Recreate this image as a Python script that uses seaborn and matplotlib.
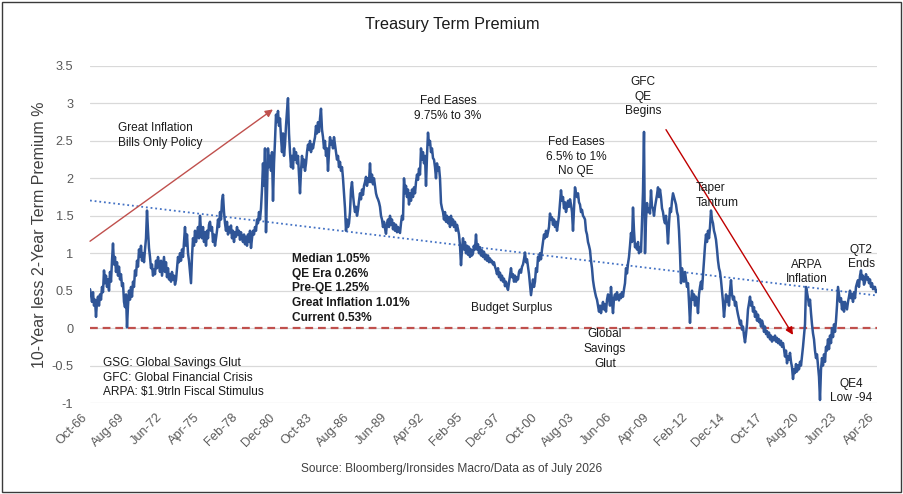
import numpy as np
import pandas as pd
import matplotlib
matplotlib.use("Agg")
import matplotlib.pyplot as plt
import matplotlib.dates as mdates
import seaborn as sns
from matplotlib.patches import Rectangle

# ---------------- data ----------------
start_month = "1966-10-01"
end_month = "2026-04-01"

term_premium = [
    0.52, 0.45, 0.35, 0.48, 0.30, 0.38, 0.15, 0.35, 0.42, 0.30,
    0.45, 0.38, 0.55, 0.48, 0.77, 0.60, 0.70, 0.55, 0.65, 0.50,
    0.75, 0.62, 0.90, 1.13, 0.85, 0.95, 0.75, 0.88, 0.70, 0.82,
    0.65, 0.72, 0.56, 0.60, 0.35, 0.28, 0.45, 0.01, 0.30, 0.50,
    0.38, 0.55, 0.42, 0.62, 0.55, 0.77, 0.70, 0.90, 0.82, 1.05,
    0.95, 1.10, 0.90, 1.00, 0.88, 1.05, 1.20, 1.57, 1.30, 1.07,
    0.95, 0.80, 0.85, 0.70, 0.78, 0.72, 0.90, 0.80, 0.95, 0.85,
    0.75, 0.90, 0.70, 0.82, 0.95, 0.75, 0.88, 0.68, 0.80, 0.65,
    0.72, 0.62, 0.75, 0.65, 0.70, 0.58, 0.64, 0.80, 0.95, 0.88,
    1.00, 0.90, 1.05, 0.95, 1.15, 1.35, 1.10, 1.25, 1.00, 0.90,
    0.75, 0.60, 0.95, 1.20, 1.10, 1.30, 1.15, 1.25, 1.35, 1.20,
    1.50, 1.30, 1.20, 1.35, 1.15, 1.28, 1.10, 1.30, 1.20, 1.38,
    1.42, 1.30, 1.35, 1.15, 1.25, 1.10, 1.20, 1.30, 1.45, 1.35,
    1.55, 1.45, 1.70, 1.78, 1.55, 1.40, 1.30, 1.42, 1.25, 1.35,
    1.28, 1.37, 1.20, 1.30, 1.15, 1.28, 1.22, 1.35, 1.25, 1.30,
    1.18, 1.28, 1.20, 1.15, 1.25, 1.12, 1.22, 1.10, 1.25, 1.15,
    1.30, 1.07, 1.20, 1.30, 1.25, 1.35, 1.30, 1.45, 1.40, 1.55,
    1.45, 1.60, 1.85, 2.20, 1.90, 2.40, 1.28, 1.80, 2.40, 2.15,
    2.30, 2.10, 2.35, 1.70, 2.20, 2.50, 2.85, 2.75, 2.90, 2.70,
    2.80, 2.55, 2.35, 2.60, 2.30, 2.45, 2.70, 2.90, 3.07, 2.60,
    2.35, 2.15, 2.30, 2.13, 2.40, 2.25, 2.35, 2.20, 2.30, 2.05,
    1.80, 2.10, 2.30, 2.15, 2.25, 2.10, 2.20, 2.35, 2.45, 2.38,
    2.50, 2.35, 2.45, 2.40, 2.48, 2.55, 2.70, 2.60, 2.75, 2.62,
    2.80, 2.93, 2.65, 2.55, 2.40, 2.50, 2.30, 2.40, 2.10, 2.35,
    2.55, 2.45, 2.50, 2.40, 2.55, 2.45, 2.35, 2.25, 2.30, 2.15,
    2.22, 2.10, 2.15, 2.00, 1.80, 1.60, 1.30, 1.45, 1.35, 1.40,
    1.55, 1.85, 1.95, 1.78, 1.65, 1.55, 1.62, 1.50, 1.58, 1.70,
    1.80, 1.72, 1.85, 1.78, 1.90, 1.95, 2.02, 1.90, 2.00, 1.95,
    2.20, 1.95, 2.05, 1.92, 2.00, 1.90, 1.80, 1.75, 1.72, 1.68,
    1.62, 1.50, 1.45, 1.35, 1.42, 1.33, 1.26, 1.40, 1.45, 1.35,
    1.50, 1.38, 1.45, 1.32, 1.40, 1.30, 1.38, 1.28, 1.35, 1.30,
    1.27, 1.40, 1.50, 1.45, 2.00, 1.80, 1.90, 1.75, 1.85, 1.65,
    1.80, 1.70, 1.85, 1.75, 1.88, 1.80, 1.95, 2.05, 1.98, 2.13,
    2.05, 2.40, 2.25, 2.35, 2.20, 2.30, 1.90, 2.30, 2.61, 2.45,
    2.50, 2.35, 2.40, 2.27, 2.25, 2.15, 2.00, 2.20, 2.10, 2.15,
    2.00, 1.67, 1.60, 1.55, 1.45, 1.55, 1.42, 1.50, 1.40, 1.48,
    1.35, 1.50, 1.38, 1.45, 1.35, 1.42, 1.30, 1.38, 1.32, 1.25,
    1.10, 0.84, 1.05, 1.20, 1.05, 1.15, 1.00, 1.10, 0.98, 1.08,
    0.95, 1.05, 0.97, 1.00, 1.10, 1.05, 1.25, 1.05, 1.12, 1.00,
    1.08, 0.97, 1.04, 0.95, 1.02, 0.92, 0.98, 0.90, 0.97, 0.88,
    0.93, 0.88, 0.90, 0.85, 0.88, 0.82, 0.78, 0.72, 0.80, 0.68,
    0.74, 0.64, 0.70, 0.62, 0.66, 0.56, 0.62, 0.55, 0.51, 0.60,
    0.70, 0.80, 0.68, 0.72, 0.62, 0.70, 0.62, 0.68, 0.65, 0.75,
    0.78, 0.74, 0.82, 0.85, 0.92, 1.01, 0.88, 0.92, 0.82, 0.72,
    0.58, 0.44, 0.55, 0.65, 0.55, 0.62, 0.80, 0.75, 0.95, 0.90,
    1.00, 0.92, 1.05, 1.15, 1.25, 1.20, 1.30, 1.22, 1.28, 1.35,
    1.53, 1.45, 1.48, 1.38, 1.45, 1.35, 1.42, 1.30, 1.40, 1.50,
    1.67, 1.84, 1.70, 1.75, 1.60, 1.68, 1.55, 1.62, 1.70, 1.62,
    1.72, 1.65, 1.55, 1.30, 1.60, 1.88, 1.80, 1.75, 1.80, 1.68,
    1.65, 1.55, 1.58, 1.50, 1.48, 1.45, 1.30, 1.25, 1.15, 1.10,
    1.04, 0.90, 0.80, 0.64, 0.55, 0.48, 0.42, 0.38, 0.30, 0.22,
    0.30, 0.20, 0.28, 0.35, 0.25, 0.32, 0.22, 0.38, 0.45, 0.40,
    0.30, 0.55, 0.35, 0.20, 0.40, 0.45, 0.38, 0.48, 0.40, 0.37,
    0.45, 0.40, 0.48, 0.42, 0.52, 0.60, 0.80, 0.73, 0.86, 0.95,
    1.10, 1.27, 1.15, 1.61, 1.30, 1.08, 1.12, 1.05, 1.15, 1.00,
    1.08, 1.02, 1.40, 1.82, 2.62, 1.00, 1.45, 1.67, 1.55, 1.60,
    1.53, 1.84, 1.62, 1.60, 1.50, 1.62, 1.70, 1.78, 1.88, 1.75,
    1.85, 1.75, 1.60, 1.55, 1.45, 1.40, 1.50, 1.35, 1.13, 1.40,
    1.60, 1.55, 1.70, 1.80, 1.75, 1.70, 1.65, 1.55, 1.50, 1.30,
    1.00, 0.60, 0.80, 0.70, 0.62, 0.75, 0.65, 0.55, 0.60, 0.35,
    0.07, 0.35, 0.50, 0.38, 0.45, 0.30, 0.42, 0.35, 0.20, 0.45,
    0.55, 0.62, 0.52, 0.70, 0.90, 1.10, 1.25, 1.15, 1.30, 1.20,
    1.35, 1.57, 1.45, 1.40, 1.30, 1.25, 1.18, 1.05, 0.90, 0.80,
    0.75, 0.64, 0.50, 0.35, 0.15, 0.30, 0.45, 0.35, 0.42, 0.30,
    0.50, 0.64, 0.45, 0.38, 0.42, 0.30, 0.35, 0.25, 0.18, 0.12,
    0.05, 0.10, -0.02, 0.02, -0.10, -0.19, -0.08, 0.05, 0.25, 0.33,
    0.42, 0.30, 0.35, 0.22, 0.28, 0.15, 0.22, 0.10, 0.18, 0.08,
    0.12, 0.02, 0.10, 0.05, -0.05, 0.02, -0.08, -0.04, -0.12, -0.06,
    -0.15, -0.10, -0.18, -0.12, -0.16, -0.10, -0.18, -0.13, -0.20, -0.15,
    -0.22, -0.17, -0.25, -0.20, -0.28, -0.38, -0.30, -0.47, -0.38, -0.42,
    -0.33, -0.45, -0.52, -0.68, -0.55, -0.60, -0.48, -0.58, -0.50, -0.55,
    -0.45, -0.50, -0.38, -0.25, -0.10, 0.05, 0.55, 0.48, 0.40, 0.30,
    0.38, 0.20, 0.05, -0.07, -0.15, -0.30, -0.40, -0.35, -0.50, -0.65,
    -0.96, -0.55, -0.40, -0.50, -0.35, -0.45, -0.25, -0.30, -0.15, -0.28,
    -0.10, -0.20, 0.00, -0.12, 0.05, -0.05, 0.10, 0.30, 0.55, 0.45,
    0.35, 0.40, 0.25, 0.35, 0.22, 0.35, 0.30, 0.25, 0.35, 0.42,
    0.50, 0.40, 0.45, 0.35, 0.48, 0.40, 0.55, 0.60, 0.64, 0.55,
    0.70, 0.77, 0.65, 0.70, 0.58, 0.62, 0.72, 0.65, 0.68, 0.60,
    0.65, 0.55, 0.60, 0.52, 0.55, 0.55, 0.48, 0.50,
]

tick_months = pd.date_range("1966-10-01", periods=22, freq="34MS")
y_ticks = [-1, -0.5, 0, 0.5, 1, 1.5, 2, 2.5, 3, 3.5]

stats_lines = ["Median 1.05%", "QE Era 0.26%", "Pre-QE 1.25%",
               "Great Inflation 1.01%", "Current 0.53%"]
glossary_lines = ["GSG: Global Savings Glut", "GFC: Global Financial Crisis",
                  "ARPA: $1.9trln Fiscal Stimulus"]

# (date, value) of arrow tails and heads
arrow_inflation = [("1966-10-01", 1.16), ("1980-07-30", 2.92)]
arrow_qe = [("2010-04-18", 2.65), ("2019-11-25", -0.09)]

# ---------------- style ----------------
sns.set_style("white")
plt.rcParams["font.family"] = ["Liberation Sans", "DejaVu Sans"]
plt.rcParams["axes.unicode_minus"] = False

dates = pd.date_range(start_month, end_month, periods=len(term_premium))
df = pd.DataFrame({"date": dates, "premium": term_premium})

W, H = 904, 494
fig = plt.figure(figsize=(W / 100, H / 100), dpi=100)
ax = fig.add_axes([90 / W, 1 - 403 / H, (877 - 90) / W, (403 - 66) / H])

# main series
sns.lineplot(data=df, x="date", y="premium", ax=ax, color="#2F5597",
             linewidth=1.8, zorder=3)

# linear trend line
xn = mdates.date2num(df["date"])
coef = np.polyfit(xn, df["premium"], 1)
ends = np.array([xn[0], xn[-1]])
ax.plot(mdates.num2date(ends), np.polyval(coef, ends), color="#4472C4",
        linestyle=(0, (1, 1.6)), linewidth=1.3, zorder=2)

# zero line
ax.axhline(0, color="#C0504D", linestyle=(0, (3.5, 2.2)), linewidth=1.6, zorder=2.5)

# arrows
def arrow(spec, color, hc):
    (d0, v0), (d1, v1) = spec
    ax.annotate("", xy=(pd.Timestamp(d1), v1), xytext=(pd.Timestamp(d0), v0),
                arrowprops=dict(arrowstyle="-|>", color=color, lw=1.0,
                                mutation_scale=11, shrinkA=0, shrinkB=0,
                                fc=hc, ec=color),
                zorder=4)

arrow(arrow_inflation, "#C0504D", "#C0504D")
arrow(arrow_qe, "#C00000", "#C00000")

# axes formatting
ax.set_xlim(dates[0], dates[-1])
ax.set_ylim(-1, 3.5)
ax.set_yticks(y_ticks)
ax.set_yticklabels([f"{v:g}" for v in y_ticks])
ax.set_xticks(tick_months)
ax.set_xticklabels([d.strftime("%b-%y") for d in tick_months], rotation=45,
                   ha="right", va="top")
ax.tick_params(axis="both", length=0, labelsize=9.2, labelcolor="#595959")
ax.tick_params(axis="y", pad=12)
ax.tick_params(axis="x", pad=6)
ax.yaxis.grid(True, color="#D9D9D9", linewidth=0.9)
ax.xaxis.grid(False)
for s in ax.spines.values():
    s.set_visible(False)
ax.set_xlabel("")
ax.set_ylabel("10-Year less 2-Year Term Premium %", fontsize=11.5, color="#404040")
ax.yaxis.set_label_coords(-(90 - 47) / 787, 0.5)

# annotations
fs = 8.6
tc = "#1a1a1a"
def note(txt, d, v, ha="center", **kw):
    ax.text(pd.Timestamp(d), v, txt, ha=ha, va="center", fontsize=fs,
            color=tc, linespacing=1.3, zorder=5, **kw)

note("Great Inflation\nBills Only Policy", "1968-11-15", 2.57, ha="left")
note("Fed Eases\n9.75% to 3%", "1993-10-20", 2.93)
note("Fed Eases\n6.5% to 1%\nNo QE", "2003-06-28", 2.29)
note("GFC\nQE\nBegins", "2008-07-22", 3.09)
note("Taper\nTantrum", "2012-07-22", 1.77, ha="left")
note("ARPA\nInflation", "2020-12-15", 0.75)
note("QT2\nEnds", "2025-01-15", 0.95)
note("QE4\nLow -94", "2024-04-10", -0.84)
note("Budget Surplus", "1998-08-25", 0.27)
note("Global\nSavings\nGlut", "2005-09-05", -0.28)
note("\n".join(stats_lines), "1982-01-08", 0.53, ha="left", fontweight="bold")
note("\n".join(glossary_lines), "1967-09-25", -0.66, ha="left")

fig.text(0.5, 1 - 24 / H, "Treasury Term Premium", ha="center", va="center",
         fontsize=11.7, color="#1a1a1a")
fig.text(452 / W, 1 - 469 / H, "Source: Bloomberg/Ironsides Macro/Data as of July 2026",
         ha="center", va="center", fontsize=8.6, color="#404040")

fig.patches.append(Rectangle((2.5 / W, 2.5 / H), (W - 5) / W, (H - 5) / H,
                             transform=fig.transFigure, fill=False,
                             edgecolor="#3a3a3a", linewidth=1.0))

fig.savefig("out.png", dpi=100)
